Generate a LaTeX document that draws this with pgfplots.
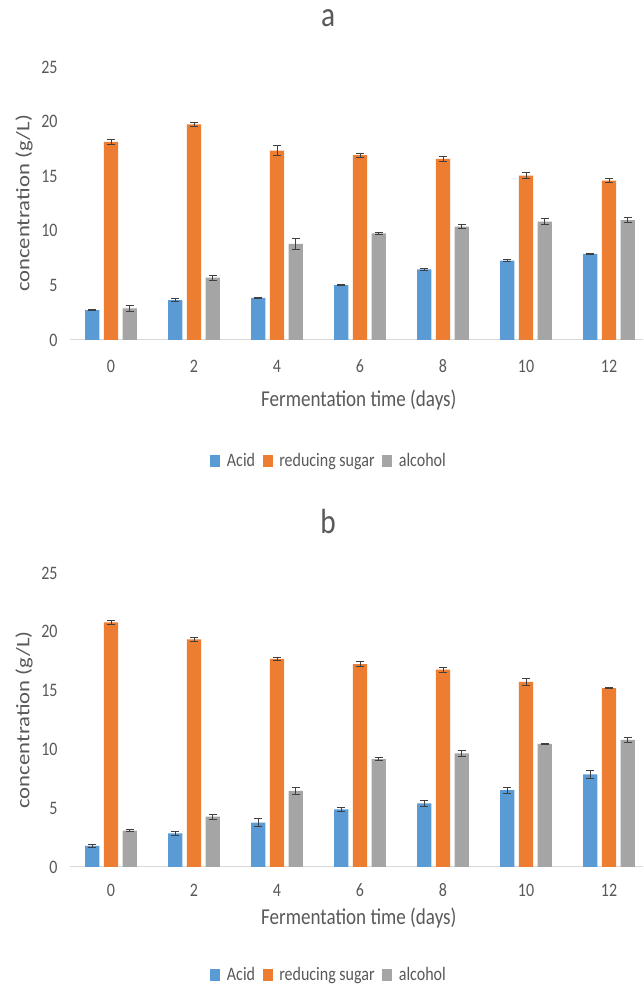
\documentclass[border=0pt]{standalone}
\usepackage{fontspec}
\setmainfont{Carlito}
\usepackage{graphicx}
\usepackage{pgfplots}
\pgfplotsset{compat=1.18}
\usepackage{pgfplotstable}
\definecolor{cblue}{HTML}{5B9BD5}
\definecolor{corange}{HTML}{ED7D31}
\definecolor{cgray}{HTML}{A5A5A5}
\definecolor{txt}{HTML}{595959}
\definecolor{errc}{HTML}{404040}
\definecolor{axgray}{HTML}{D9D9D9}
\newcommand\vs[1]{\scalebox{1}[1.19]{#1}}
\newcommand\hs[1]{\scalebox{1.19}[1]{#1}}

\pgfplotstableread{
x  acid acidE sugar sugarE alc alcE
0  2.74 0.08  18.14 0.22  2.90 0.25
2  3.66 0.15  19.75 0.20  5.70 0.25
4  3.85 0.08  17.35 0.47  8.80 0.47
6  5.03 0.08  16.92 0.18  9.76 0.08
8  6.46 0.08  16.58 0.25  10.37 0.20
10 7.26 0.08  15.05 0.25  10.85 0.25
12 7.88 0.08  14.60 0.15  10.97 0.25
}\dataA

\pgfplotstableread{
x  acid acidE sugar sugarE alc alcE
0  1.79 0.15  20.80 0.18  3.10 0.08
2  2.85 0.20  19.35 0.20  4.28 0.20
4  3.78 0.35  17.70 0.15  6.48 0.30
6  4.89 0.20  17.25 0.20  9.18 0.15
8  5.40 0.25  16.78 0.20  9.66 0.25
10 6.53 0.25  15.75 0.30  10.46 0.05
12 7.87 0.35  15.20 0.05  10.82 0.20
}\dataB

\pgfplotsset{
  sq/.style={legend image code/.code={\fill[##1] (0pt,-4.4pt) rectangle (7.5pt,4.4pt);}},
  eb/.style={error bars/.cd, y dir=both, y explicit,
    error bar style={errc, line width=0.75pt},
    error mark options={errc, mark size=3pt, line width=0.75pt, rotate=90}},
  mybars/.style={
    ybar=3.4pt, bar width=10.7pt,
    scale only axis, width=435.75pt,
    anchor=south west,
    xmin=-1, xmax=13, ymin=0, ymax=25,
    xtick={0,2,4,6,8,10,12},
    xticklabels={\vs{0},\vs{2},\vs{4},\vs{6},\vs{8},\vs{10},\vs{12}},
    ytick={0,5,10,15,20,25},
    yticklabels={\vs{0},\vs{5},\vs{10},\vs{15},\vs{20},\vs{25}},
    major tick length=0pt,
    axis x line*=bottom, axis y line*=left,
    x axis line style={draw=axgray, line width=0.75pt, -},
    y axis line style={draw=none},
    tick label style={font=\fontsize{12}{14}\selectfont, text=txt},
    yticklabel style={anchor=east, xshift=-5.4pt},
    label style={font=\fontsize{14.3}{16}\selectfont, text=txt},
    title style={font=\fontsize{22}{24}\selectfont, text=txt, anchor=center},
    ylabel={\hs{concentration (g/L)}},
    xlabel={\vs{Fermentation time (days)}},
    ylabel style={at={(axis description cs:-0.0783,0.5)}, anchor=center},
    legend columns=3,
    legend style={draw=none, fill=none, font=\fontsize{12}{14}\selectfont, text=txt,
      anchor=center, nodes={inner sep=0pt},
      /tikz/every even column/.append style={column sep=5.7pt},
      /tikz/every odd column/.append style={column sep=5pt}},
  },
}

\begin{document}
\begin{tikzpicture}
\path[use as bounding box, clip] (0,0) rectangle (482.25pt,738pt);
\fill[white] (0,0) rectangle (482.25pt,738pt);

% ---- chart a ----
\begin{axis}[mybars, height=204.75pt, at={(52.125pt,483pt)},
  title={\vs{a}}, title style={at={(axis description cs:0.445,1.150)}},
  xlabel style={at={(axis description cs:0.498,-0.2198)}, anchor=center},
  xticklabel style={anchor=center, yshift=-19.5pt},
  legend style={at={(axis description cs:0.445,-0.443)}}]
\addplot[fill=cblue, draw=none, sq, eb] table[x=x, y=acid, y error=acidE] {\dataA};
\addlegendentry{\vs{Acid}}
\addplot[fill=corange, draw=none, sq, eb] table[x=x, y=sugar, y error=sugarE] {\dataA};
\addlegendentry{\vs{reducing sugar}}
\addplot[fill=cgray, draw=none, sq, eb] table[x=x, y=alc, y error=alcE] {\dataA};
\addlegendentry{\vs{alcohol}}
\end{axis}

% ---- chart b ----
\begin{axis}[mybars, height=220.5pt, at={(52.125pt,87.75pt)},
  title={\vs{b}}, title style={at={(axis description cs:0.445,1.147)}},
  xlabel style={at={(axis description cs:0.498,-0.1735)}, anchor=center},
  xticklabel style={anchor=center, yshift=-17.25pt},
  legend style={at={(axis description cs:0.445,-0.367)}}]
\addplot[fill=cblue, draw=none, sq, eb] table[x=x, y=acid, y error=acidE] {\dataB};
\addlegendentry{\vs{Acid}}
\addplot[fill=corange, draw=none, sq, eb] table[x=x, y=sugar, y error=sugarE] {\dataB};
\addlegendentry{\vs{reducing sugar}}
\addplot[fill=cgray, draw=none, sq, eb] table[x=x, y=alc, y error=alcE] {\dataB};
\addlegendentry{\vs{alcohol}}
\end{axis}
\end{tikzpicture}
\end{document}
